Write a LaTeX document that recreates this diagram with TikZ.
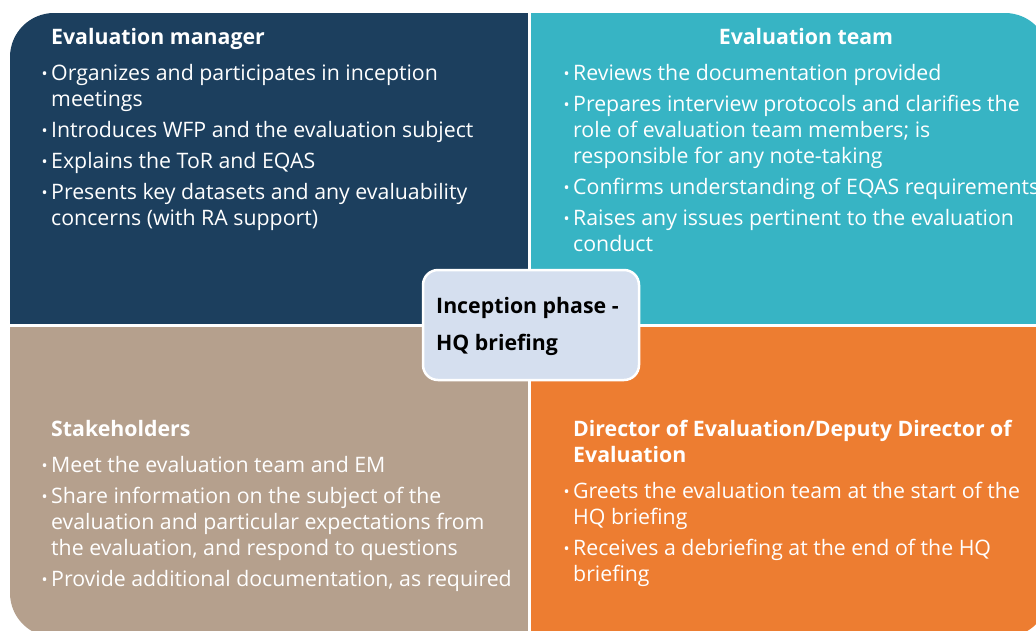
\documentclass[tikz,border=0pt]{standalone}
\usepackage{fontspec}
\setmainfont{Open Sans}
\definecolor{navy}{HTML}{1C3F5E}
\definecolor{teal}{HTML}{37B4C4}
\definecolor{taupe}{HTML}{B5A08D}
\definecolor{tangerine}{HTML}{ED7D31}
\definecolor{hubfill}{HTML}{D5DFEF}
% bullet hung to the left of the text column
\newcommand{\itm}{\makebox[0pt][r]{\raisebox{1pt}{\fontsize{16}{16}\selectfont •}\hspace{3.5pt}}}
% fixes the height of a block's first line
\newcommand{\topstrut}{\rule{0pt}{20pt}}
\tikzset{
  body/.style={anchor=north west, inner sep=0pt, align=left, text=white,
    font=\fontsize{21.3}{26}\selectfont},
  head/.style={anchor=north west, inner sep=0pt, align=left, text=white,
    font=\bfseries\fontsize{21.3}{26}\selectfont},
  hub/.style={draw=white, line width=2.5pt, fill=hubfill, rounded corners=15pt,
    minimum width=216pt, minimum height=110pt, inner sep=0pt},
  hubtext/.style={anchor=north west, inner sep=0pt, align=left, text=black,
    font=\bfseries\fontsize{21.3}{37}\selectfont},
}
\begin{document}
\begin{tikzpicture}[x=1pt,y=-1pt]
\useasboundingbox (0,0) rectangle (1036,630);
\clip (0,0) rectangle (1036,630);
\fill[white] (0,0) rectangle (1036,630);

% four coloured quadrants inside one rounded frame
\begin{scope}
  \clip[rounded corners=44pt] (10,13) rectangle (1049,637);
  \fill[navy]      (10,13)   rectangle (528,324);
  \fill[teal]      (531,13)  rectangle (1049,323.5);
  \fill[taupe]     (10,327)  rectangle (528,637);
  \fill[tangerine] (531,327) rectangle (1049,637);
\end{scope}

% evaluation manager
\node[head] (emh) at (51,24) {\topstrut Evaluation manager};
\node[body] (emb) at (51,60) {\topstrut\itm Organizes and participates in inception\\
meetings\\[5pt]
\itm Introduces WFP and the evaluation subject\\[5pt]
\itm Explains the ToR and EQAS\\[5pt]
\itm Presents key datasets and any evaluability\\
concerns (with RA support)};

% evaluation team
\node[head, anchor=north] (eth) at (806,24) {\topstrut Evaluation team};
\node[body] (etb) at (573,60) {\topstrut\itm Reviews the documentation provided\\[5pt]
\itm Prepares interview protocols and clarifies the\\
role of evaluation team members; is\\
responsible for any note-taking\\[5pt]
\itm Confirms understanding of EQAS requirements\\[5pt]
\itm Raises any issues pertinent to the evaluation\\
conduct};

% stakeholders
\node[head] (skh) at (51,416) {\topstrut Stakeholders};
\node[body] (skb) at (51,452) {\topstrut\itm Meet the evaluation team and EM\\[5pt]
\itm Share information on the subject of the\\
evaluation and particular expectations from\\
the evaluation, and respond to questions\\[5pt]
\itm Provide additional documentation, as required};

% director of evaluation
\node[head] (doh) at (573,416) {\topstrut Director of Evaluation/Deputy Director of\\
Evaluation};
\node[body] (dob) at (573,478) {\topstrut\itm Greets the evaluation team at the start of the\\
HQ briefing\\[5pt]
\itm Receives a debriefing at the end of the HQ\\
briefing};

% central label
\node[hub] (hubbox) at (531,325) {};
\node[hubtext] (hubtxt) at (436,293.5) {\topstrut Inception phase -\\HQ briefing};
\end{tikzpicture}
\end{document}
